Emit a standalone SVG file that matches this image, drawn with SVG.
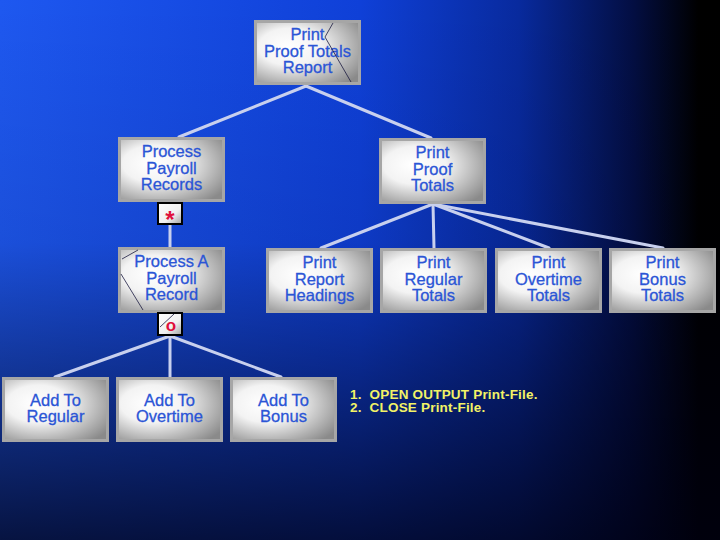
<svg xmlns="http://www.w3.org/2000/svg" width="720" height="540" viewBox="0 0 720 540">
  <defs>
    <linearGradient id="bgH" x1="0" y1="0" x2="1" y2="0">
      <stop offset="0" stop-color="#1e58f0"/>
      <stop offset="0.5" stop-color="#0f40d8"/>
      <stop offset="0.72" stop-color="#082a9e"/>
      <stop offset="0.88" stop-color="#030e42"/>
      <stop offset="0.97" stop-color="#000000"/>
    </linearGradient>
    <linearGradient id="bgV" x1="0" y1="0" x2="0" y2="1">
      <stop offset="0" stop-color="#000010" stop-opacity="0"/>
      <stop offset="0.45" stop-color="#000010" stop-opacity="0.1"/>
      <stop offset="1" stop-color="#000010" stop-opacity="0.78"/>
    </linearGradient>
    <radialGradient id="boxFill" cx="0.38" cy="0.42" r="0.75" fx="0.3" fy="0.4">
      <stop offset="0" stop-color="#ffffff"/>
      <stop offset="0.4" stop-color="#f3f3f3"/>
      <stop offset="1" stop-color="#8a8a8a"/>
    </radialGradient>
    <linearGradient id="tagFill" x1="0" y1="0" x2="1" y2="1">
      <stop offset="0" stop-color="#ffffff"/>
      <stop offset="0.6" stop-color="#f0f0f0"/>
      <stop offset="1" stop-color="#a0a0a0"/>
    </linearGradient>
    <style>
      .box { fill: url(#boxFill); stroke: #a6a6a6; stroke-width: 3; }
      .lbl { font-family: "Liberation Sans", Arial, sans-serif; font-size: 16.5px; fill: #2b55d6; text-anchor: middle; stroke: #2b55d6; stroke-width: 0.3; }
      .conn { stroke: #c8d0ee; stroke-width: 3; fill: none; stroke-linecap: round; }
      .tag { fill: url(#tagFill); stroke: #000000; stroke-width: 2; }
      .tagtxt { font-family: "Liberation Sans", Arial, sans-serif; font-weight: bold; fill: #e0103c; text-anchor: middle; }
      .mark { stroke: #1a1a40; stroke-width: 0.8; fill: none; }
      .note { font-family: "Liberation Sans", Arial, sans-serif; font-size: 13.5px; font-weight: bold; fill: #f2f266; letter-spacing: 0.2px; }
    </style>
  </defs>

  <rect x="0" y="0" width="720" height="540" fill="url(#bgH)"/>
  <rect x="0" y="0" width="720" height="540" fill="url(#bgV)"/>

  <g id="connectors">
    <line class="conn" x1="306" y1="86" x2="179" y2="137"/>
    <line class="conn" x1="306" y1="86" x2="431" y2="138"/>
    <line class="conn" x1="170" y1="224" x2="170" y2="247"/>
    <line class="conn" x1="433" y1="204" x2="321" y2="248"/>
    <line class="conn" x1="433" y1="204" x2="434" y2="248"/>
    <line class="conn" x1="433" y1="204" x2="549" y2="248"/>
    <line class="conn" x1="433" y1="204" x2="663" y2="248"/>
    <line class="conn" x1="170" y1="336" x2="55" y2="377"/>
    <line class="conn" x1="170" y1="336" x2="170" y2="377"/>
    <line class="conn" x1="170" y1="336" x2="281" y2="377"/>
  </g>

  <g id="n-top">
    <rect class="box" x="255.5" y="21.5" width="104" height="62"/>
    <text class="lbl" x="307.5" y="40">Print</text>
    <text class="lbl" x="307.5" y="56.5">Proof Totals</text>
    <text class="lbl" x="307.5" y="73">Report</text>
    <path class="mark" d="M333 23 L325 37 L351 82"/>
  </g>

  <g id="n-ppr">
    <rect class="box" x="119.5" y="138.5" width="104" height="62"/>
    <text class="lbl" x="171.5" y="157">Process</text>
    <text class="lbl" x="171.5" y="173.5">Payroll</text>
    <text class="lbl" x="171.5" y="190">Records</text>
  </g>

  <g id="tag-star">
    <rect class="tag" x="158" y="203" width="24" height="21"/>
    <text class="tagtxt" x="170" y="228" font-size="24">*</text>
  </g>

  <g id="n-ppt">
    <rect class="box" x="380.5" y="139.5" width="104" height="63"/>
    <text class="lbl" x="432.5" y="158">Print</text>
    <text class="lbl" x="432.5" y="174.5">Proof</text>
    <text class="lbl" x="432.5" y="191">Totals</text>
  </g>

  <g id="n-papr">
    <rect class="box" x="119.5" y="248.5" width="104" height="63"/>
    <text class="lbl" x="171.5" y="267">Process A</text>
    <text class="lbl" x="171.5" y="283.5">Payroll</text>
    <text class="lbl" x="171.5" y="300">Record</text>
    <path class="mark" d="M138 250 L122 259 M121 274 L143 310"/>
  </g>

  <g id="tag-o">
    <rect class="tag" x="158" y="313" width="24" height="22"/>
    <path class="mark" d="M174 314 L160 327"/>
    <text class="tagtxt" x="171" y="331" font-size="17">o</text>
  </g>

  <g id="n-prh">
    <rect class="box" x="267.5" y="249.5" width="104" height="62"/>
    <text class="lbl" x="319.5" y="268">Print</text>
    <text class="lbl" x="319.5" y="284.5">Report</text>
    <text class="lbl" x="319.5" y="301">Headings</text>
  </g>

  <g id="n-prt">
    <rect class="box" x="381.5" y="249.5" width="104" height="62"/>
    <text class="lbl" x="433.5" y="268">Print</text>
    <text class="lbl" x="433.5" y="284.5">Regular</text>
    <text class="lbl" x="433.5" y="301">Totals</text>
  </g>

  <g id="n-pot">
    <rect class="box" x="496.5" y="249.5" width="104" height="62"/>
    <text class="lbl" x="548.5" y="268">Print</text>
    <text class="lbl" x="548.5" y="284.5">Overtime</text>
    <text class="lbl" x="548.5" y="301">Totals</text>
  </g>

  <g id="n-pbt">
    <rect class="box" x="610.5" y="249.5" width="104" height="62"/>
    <text class="lbl" x="662.5" y="268">Print</text>
    <text class="lbl" x="662.5" y="284.5">Bonus</text>
    <text class="lbl" x="662.5" y="301">Totals</text>
  </g>

  <g id="n-atr">
    <rect class="box" x="3.5" y="378.5" width="104" height="62"/>
    <text class="lbl" x="55.5" y="405.5">Add To</text>
    <text class="lbl" x="55.5" y="422">Regular</text>
  </g>

  <g id="n-ato">
    <rect class="box" x="117.5" y="378.5" width="104" height="62"/>
    <text class="lbl" x="169.5" y="405.5">Add To</text>
    <text class="lbl" x="169.5" y="422">Overtime</text>
  </g>

  <g id="n-atb">
    <rect class="box" x="231.5" y="378.5" width="104" height="62"/>
    <text class="lbl" x="283.5" y="405.5">Add To</text>
    <text class="lbl" x="283.5" y="422">Bonus</text>
  </g>

  <g id="notes">
    <text class="note" x="350" y="398.5" xml:space="preserve">1.  OPEN OUTPUT Print-File.</text>
    <text class="note" x="350" y="412" xml:space="preserve">2.  CLOSE Print-File.</text>
  </g>
</svg>
